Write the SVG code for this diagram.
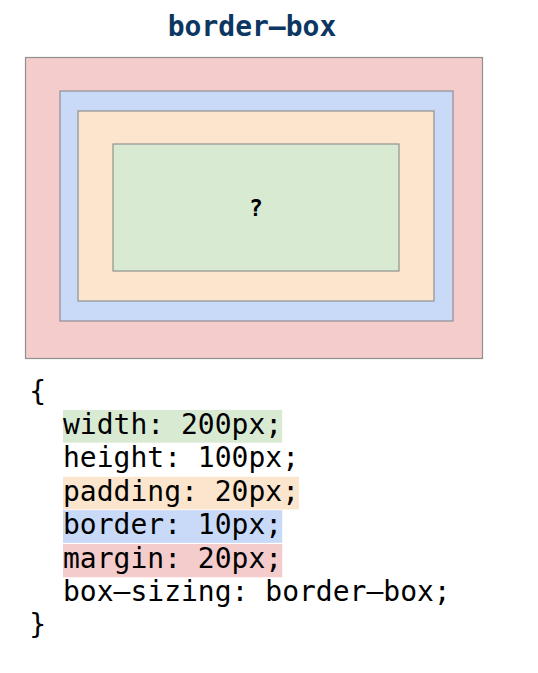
<svg xmlns="http://www.w3.org/2000/svg" width="538" height="673" viewBox="0 0 538 673">
<style>
.box{stroke:#909090;stroke-width:1.2}
.mono{font-family:"DejaVu Sans Mono","Liberation Mono",monospace;font-size:28px;fill:#000}
.title{font-family:"DejaVu Sans Mono","Liberation Mono",monospace;font-size:28px;font-weight:bold;fill:#0b3762}
.q{font-family:"DejaVu Sans Mono","Liberation Mono",monospace;font-size:23px;font-weight:bold;fill:#000}
</style>
<rect width="538" height="673" fill="#ffffff"/>
<g id="title"><text class="title" x="252" y="35.5" text-anchor="middle">border–box</text></g>
<g id="margin"><rect class="box" x="25.5" y="57.5" width="457" height="301" fill="#f4cccc"/></g>
<g id="border"><rect class="box" x="60" y="91" width="393" height="230" fill="#c9daf8"/></g>
<g id="padding"><rect class="box" x="78" y="111" width="356" height="190" fill="#fce5cd"/></g>
<g id="content"><rect class="box" x="113" y="144" width="286" height="127" fill="#d9ead3"/>
<text class="q" x="256" y="216" text-anchor="middle">?</text></g>
<g id="code">
<rect x="63" y="410" width="219.2" height="32.7" fill="#d9ead3"/>
<rect x="63" y="476.8" width="236" height="32.7" fill="#fce5cd"/>
<rect x="63" y="510.2" width="219.2" height="32.7" fill="#c9daf8"/>
<rect x="63" y="544" width="219.2" height="33.3" fill="#f4cccc"/>
<text class="mono" x="29.3" y="400.6">{</text>
<text class="mono" x="63" y="434">width: 200px;</text>
<text class="mono" x="63" y="467.4">height: 100px;</text>
<text class="mono" x="63" y="500.8">padding: 20px;</text>
<text class="mono" x="63" y="534.2">border: 10px;</text>
<text class="mono" x="63" y="567.6">margin: 20px;</text>
<text class="mono" x="63" y="601">box–sizing: border–box;</text>
<text class="mono" x="29.3" y="634.4">}</text>
</g>
</svg>
